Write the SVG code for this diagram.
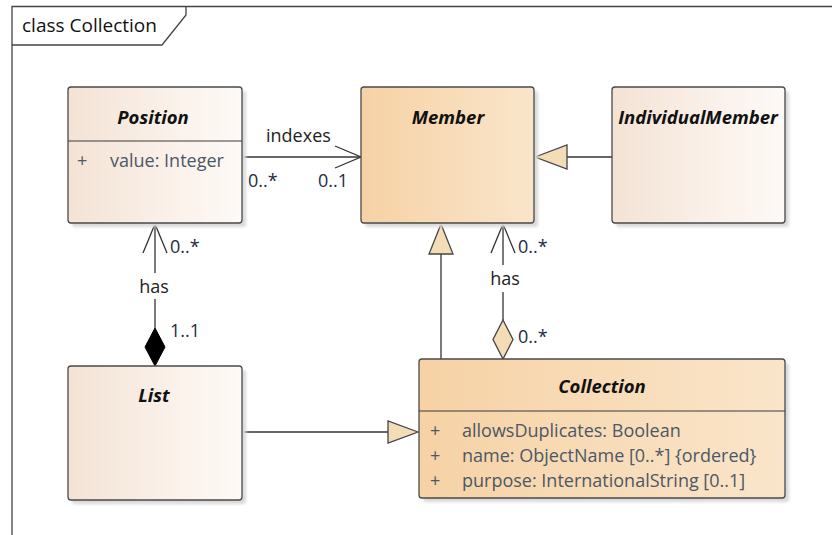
<svg xmlns="http://www.w3.org/2000/svg" width="832" height="535" viewBox="0 0 832 535">
  <style>
    .frame { fill: none; stroke: #444; stroke-width: 1.3; }
    .box { stroke: #4a4a4a; stroke-width: 1.3; }
    .shadow { fill: #d9d9d9; filter: url(#soft); }
    .sep { stroke: #3a3a3a; stroke-width: 1.2; }
    .title { font-family: "Open Sans", "Noto Sans", sans-serif; font-size: 18.5px; font-weight: bold; font-style: italic; fill: #111; text-anchor: middle; }
    .attr { font-family: "Open Sans", "Noto Sans", sans-serif; font-size: 18px; fill: #4b5866; }
    .lbl { font-family: "Open Sans", "Noto Sans", sans-serif; font-size: 18px; fill: #222; }
    .mult { font-family: "Open Sans", "Noto Sans", sans-serif; font-size: 18px; fill: #1e2a44; }
    .frametitle { font-family: "Open Sans", "Noto Sans", sans-serif; font-size: 19px; fill: #111; }
    .line { fill: none; stroke: #333; stroke-width: 1.3; }
    .gen { fill: #f3dcb6; stroke: #444; stroke-width: 1.3; stroke-linejoin: miter; }
    .comp { fill: #000; stroke: #000; stroke-width: 1; }
    .aggr { fill: #f3dcb6; stroke: #444; stroke-width: 1.3; }
  </style>
  <defs>
    <linearGradient id="pale" x1="0" y1="0" x2="1" y2="0">
      <stop offset="0" stop-color="#f4e3d5"/>
      <stop offset="1" stop-color="#fefaf7"/>
    </linearGradient>
    <linearGradient id="warm" x1="0" y1="0" x2="1" y2="0">
      <stop offset="0" stop-color="#f6d2a5"/>
      <stop offset="1" stop-color="#fae5ca"/>
    </linearGradient>
    <filter id="soft" x="-10%" y="-10%" width="120%" height="120%">
      <feGaussianBlur stdDeviation="1.5"/>
    </filter>
  </defs>

  <rect width="832" height="535" fill="#ffffff"/>

  <!-- diagram frame -->
  <g id="frame">
    <path class="frame" d="M12 535 V6.5 H832"/>
    <path class="frame" d="M12 45 H162 L186 15 V6.5"/>
    <text class="frametitle" x="22" y="32">class Collection</text>
  </g>

  <!-- connectors -->
  <g id="connectors">
    <!-- Position indexes Member -->
    <line class="line" x1="242" y1="157" x2="361" y2="157"/>
    <path class="line" d="M335 146 L361 157 L335 168"/>
    <text class="lbl" x="266" y="142">indexes</text>
    <text class="mult" x="248" y="187">0..*</text>
    <text class="mult" x="318" y="187">0..1</text>

    <!-- IndividualMember generalizes Member -->
    <line class="line" x1="612" y1="157" x2="567" y2="157"/>
    <polygon class="gen" points="535,157 567,145 567,169"/>

    <!-- List has Position (composition) -->
    <line class="line" x1="155" y1="224" x2="155" y2="273"/>
    <line class="line" x1="155" y1="299" x2="155" y2="328"/>
    <path class="line" d="M143 253 L155 224 L167 253"/>
    <polygon class="comp" points="155,328 165,347 155,366 145,347"/>
    <text class="lbl" x="154" y="293" text-anchor="middle">has</text>
    <text class="mult" x="170" y="253">0..*</text>
    <text class="mult" x="170" y="337">1..1</text>

    <!-- Collection generalizes Member -->
    <line class="line" x1="441" y1="359" x2="441" y2="254"/>
    <polygon class="gen" points="441,224 453,254 429,254"/>

    <!-- Collection has Member (aggregation) -->
    <line class="line" x1="503" y1="224" x2="503" y2="265"/>
    <line class="line" x1="503" y1="292" x2="503" y2="320"/>
    <path class="line" d="M491 253 L503 224 L515 253"/>
    <polygon class="aggr" points="503,320 513,339.5 503,359 493,339.5"/>
    <text class="lbl" x="505" y="285" text-anchor="middle">has</text>
    <text class="mult" x="518" y="253">0..*</text>
    <text class="mult" x="518" y="343">0..*</text>

    <!-- List generalizes Collection -->
    <line class="line" x1="242" y1="432" x2="388" y2="432"/>
    <polygon class="gen" points="418,432 388,421 388,443"/>
  </g>

  <!-- Position -->
  <g id="position">
    <rect class="shadow" x="72" y="91" width="174" height="136" rx="3"/>
    <rect class="box" x="68" y="87" width="174" height="136" rx="3" fill="url(#pale)"/>
    <line class="sep" x1="68" y1="141" x2="242" y2="141"/>
    <text class="title" x="153" y="124">Position</text>
    <text class="attr" x="77" y="167">+</text>
    <text class="attr" x="110" y="167">value: Integer</text>
  </g>

  <!-- Member -->
  <g id="member">
    <rect class="shadow" x="365" y="91" width="173" height="136" rx="3"/>
    <rect class="box" x="361" y="87" width="173" height="136" rx="3" fill="url(#warm)"/>
    <text class="title" x="448" y="124">Member</text>
  </g>

  <!-- IndividualMember -->
  <g id="individualmember">
    <rect class="shadow" x="616" y="91" width="173" height="136" rx="3"/>
    <rect class="box" x="612" y="87" width="173" height="136" rx="3" fill="url(#pale)"/>
    <text class="title" x="698" y="124">IndividualMember</text>
  </g>

  <!-- List -->
  <g id="list">
    <rect class="shadow" x="72" y="370" width="174" height="134" rx="3"/>
    <rect class="box" x="68" y="366" width="174" height="134" rx="3" fill="url(#pale)"/>
    <text class="title" x="154" y="402">List</text>
  </g>

  <!-- Collection -->
  <g id="collection">
    <rect class="shadow" x="423" y="363" width="366" height="139" rx="3"/>
    <rect class="box" x="419" y="359" width="366" height="139" rx="3" fill="url(#warm)"/>
    <line class="sep" x1="419" y1="411" x2="785" y2="411"/>
    <text class="title" x="602" y="393">Collection</text>
    <text class="attr" x="430" y="437">+</text>
    <text class="attr" x="462" y="437">allowsDuplicates: Boolean</text>
    <text class="attr" x="430" y="462">+</text>
    <text class="attr" x="462" y="462">name: ObjectName [0..*] {ordered}</text>
    <text class="attr" x="430" y="487">+</text>
    <text class="attr" x="462" y="487">purpose: InternationalString [0..1]</text>
  </g>
</svg>
